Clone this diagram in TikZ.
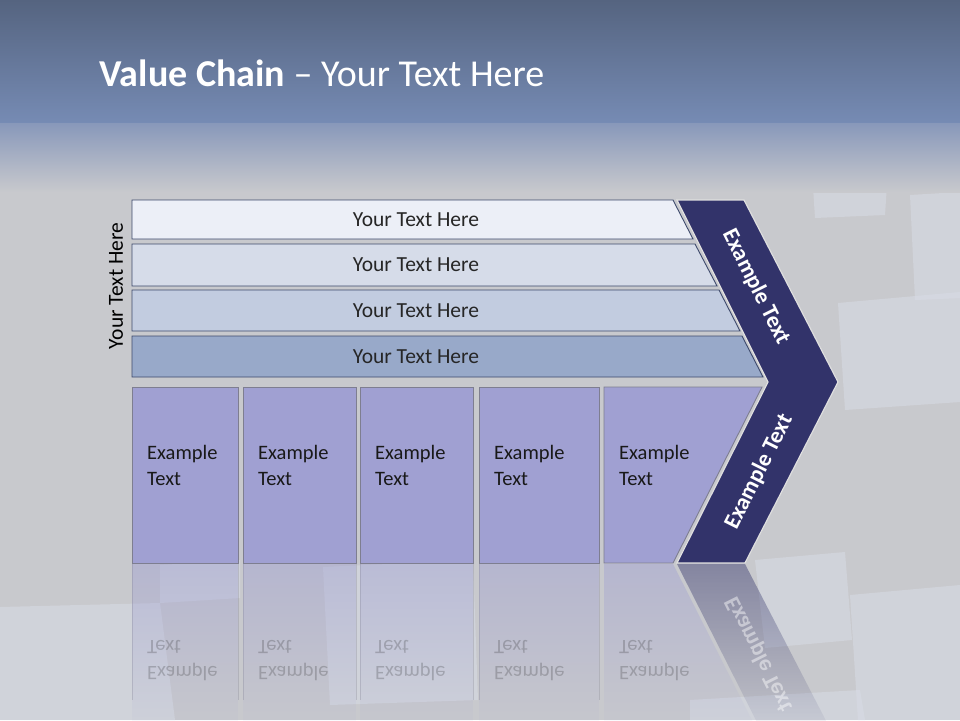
\documentclass[tikz,border=0pt]{standalone}
\usepackage{fontspec}
\setmainfont{Carlito}
\usetikzlibrary{fadings}
\definecolor{navy}{HTML}{32336A}
\definecolor{barA}{HTML}{ECEFF7}
\definecolor{barB}{HTML}{D6DCE9}
\definecolor{barC}{HTML}{C2CCE0}
\definecolor{barD}{HTML}{98A9C9}
\definecolor{barline}{HTML}{3E4A6C}
\definecolor{boxfill}{HTML}{A0A0D2}
\definecolor{boxline}{HTML}{7E7E90}
\definecolor{floor}{HTML}{C8C9CD}
\definecolor{tile}{HTML}{D8DCE6}
\tikzfading[name=reflfade, top color=transparent!55, bottom color=transparent!100]
\tikzset{
  bar/.style={draw=barline, line width=0.9pt},
  bartext/.style={font=\fontsize{21.5}{25}\selectfont, text=black!85},
  box/.style={draw=boxline, line width=0.9pt, fill=boxfill},
  boxtext/.style={font=\fontsize{20.5}{26}\selectfont, text=black!90, align=left, anchor=west, inner sep=0pt},
  chevtext/.style={font=\fontsize{23}{26}\selectfont\bfseries, text=white, inner sep=1pt},
  refl/.style={fill=#1, path fading=reflfade},
}
\begin{document}
\begin{tikzpicture}[x=1pt,y=-1pt]
\useasboundingbox (0,0) rectangle (960,720);
\clip (0,0) rectangle (960,720);
% background
\fill[floor] (0,0) rectangle (960,720);
\foreach \p in {
  {(810,140) -- (890,138) -- (885,215) -- (815,218)},
  {(910,195) -- (960,192) -- (960,298) -- (915,300)},
  {(838,303) -- (960,292) -- (960,402) -- (845,410)},
  {(755,560) -- (845,552) -- (852,640) -- (765,648)},
  {(850,595) -- (960,585) -- (960,720) -- (858,720)},
  {(160,565) -- (240,560) -- (240,598) -- (160,603)},
  {(0,607) -- (160,603) -- (175,720) -- (0,720)},
  {(323,567) -- (473,560) -- (478,700) -- (330,705)},
  {(690,700) -- (860,690) -- (865,720) -- (690,720)}}{
  \fill[tile, opacity=0.55] \p -- cycle;
}
\shade[top color={rgb,255:red,85;green,100;blue,128}, bottom color={rgb,255:red,118;green,139;blue,180}] (0,0) rectangle (960,123);
\shade[top color={rgb,255:red,136;green,152;blue,186}, bottom color=floor] (0,123) rectangle (960,192);

% title
\node[anchor=west, text=white, font=\fontsize{38}{42}\selectfont] (title) at (96,73)
  {\textbf{Value Chain} – Your Text Here};

% side label
\node[rotate=90, font=\fontsize{21.5}{25}\selectfont, text=black] (side) at (116,286) {Your Text Here};

% bars
\foreach \n/\yt/\yb/\xt/\xb/\col in {1/200/239/673/693/barA, 2/244/286/695/717/barB,
    3/290/331/719/740/barC, 4/336/377/742/763/barD}{
  \draw[bar, fill=\col] (132,\yt) -- (\xt,\yt) -- (\xb,\yb) -- (132,\yb) -- cycle;
  \node[bartext] (bar\n) at (416,{(\yt+\yb)/2}) {Your Text Here};
}

% chevron
\draw[fill=navy, draw=white!75!gray, line width=1.2pt]
  (677,200) -- (744,200) -- (838,382) -- (745,563) -- (677,563) -- (768,382) -- cycle;
\node[chevtext, rotate=-63.4] (chevtop) at (756,287) {Example Text};
\node[chevtext, rotate=63.4] (chevbot) at (759,472) {Example Text};

% boxes
\foreach \n/\xl/\xr in {1/132/238, 2/243/356, 3/360/473, 4/479/599}{
  \draw[box] (\xl,387) rectangle (\xr,563);
  \node[boxtext] (box\n) at (\xl+15,465) {Example\\Text};
}
\draw[box] (604,387) -- (762,387) -- (673,563) -- (604,563) -- cycle;
\node[boxtext] (box5) at (619,465) {Example\\Text};

% reflection
\foreach \xl/\xr in {132/238, 243/356, 360/473, 479/599}{
  \fill[refl=boxfill] (\xl,564) rectangle (\xr,740);
  \draw[boxline, opacity=0.3] (\xl,564) -- (\xl,700) (\xr,564) -- (\xr,700);
  \node[boxtext, yscale=-1, text opacity=0.22] at (\xl+15,661) {Example\\Text};
}
\fill[refl=boxfill] (604,564) -- (673,564) -- (762,740) -- (604,740) -- cycle;
\node[boxtext, yscale=-1, text opacity=0.22] at (619,661) {Example\\Text};
\fill[refl=navy] (677,564) -- (745,564) -- (838,744) -- (768,744) -- cycle;
\node[chevtext, rotate=-63.4, yscale=-1, text opacity=0.45] at (759,654) {Example Text};
\end{tikzpicture}
\end{document}
